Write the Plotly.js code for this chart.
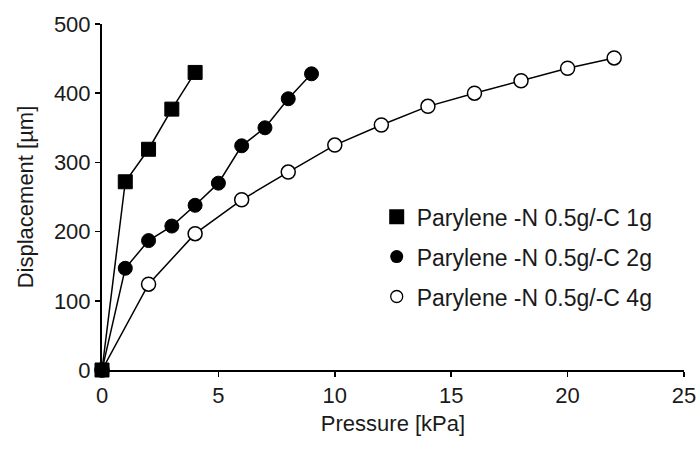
<!DOCTYPE html>
<html>
<head>
<meta charset="utf-8">
<script src="https://cdn.plot.ly/plotly-3.0.1.min.js"></script>
<style>html,body{margin:0;padding:0;background:#fff;}#chart{width:700px;height:450px;}</style>
</head>
<body>
<div id="chart"></div>
<script>
// Data
const seriesNames = ["Parylene -N 0.5g/-C 1g", "Parylene -N 0.5g/-C 2g", "Parylene -N 0.5g/-C 4g"];
const pressure1g = [0, 1, 2, 3, 4];
const displacement1g = [0, 272, 319, 377, 430];
const pressure2g = [0, 1, 2, 3, 4, 5, 6, 7, 8, 9];
const displacement2g = [0, 147, 187, 208, 238, 270, 324, 350, 392, 428];
const pressure4g = [0, 2, 4, 6, 8, 10, 12, 14, 16, 18, 20, 22];
const displacement4g = [0, 124, 197, 246, 286, 325, 354, 381, 400, 418, 436, 451];
const xTicks = [0, 5, 10, 15, 20, 25];
const yTicks = [0, 100, 200, 300, 400, 500];

const FONT = "Liberation Sans, Arial, sans-serif";
const TXT = "#1a1a1a";
const FS = 22;
const lineStyle = {color: "#000", width: 1.5};
const markers = [
  {symbol: "square", size: 14, color: "#000", line: {color: "#000", width: 1}},
  {symbol: "circle", size: 14, color: "#000", line: {color: "#000", width: 1}},
  {symbol: "circle", size: 14, color: "#fff", line: {color: "#000", width: 1.5}}
];
const legendMarkers = [
  {symbol: "square", size: 15, color: "#000", line: {color: "#000", width: 0}},
  {symbol: "circle", size: 13, color: "#000", line: {color: "#000", width: 0}},
  {symbol: "circle", size: 12, color: "#fff", line: {color: "#000", width: 1.3}}
];
const xs = [pressure1g, pressure2g, pressure4g];
const ys = [displacement1g, displacement2g, displacement4g];

const traces = [];
for (let i = 2; i >= 0; i--) {
  traces.push({
    x: xs[i], y: ys[i], type: "scatter", mode: "lines+markers",
    line: lineStyle, marker: markers[i], cliponaxis: false,
    showlegend: false, name: seriesNames[i], legendgroup: "g" + i
  });
}
for (let i = 0; i < 3; i++) {
  traces.push({
    x: [null], y: [null], type: "scatter", mode: "markers",
    marker: legendMarkers[i], name: seriesNames[i], legendgroup: "g" + i, showlegend: true
  });
}

const layout = {
  width: 700, height: 450,
  margin: {l: 102, r: 16, t: 24, b: 80},
  paper_bgcolor: "#fff", plot_bgcolor: "#fff",
  font: {family: FONT, size: FS, color: TXT},
  showlegend: true,
  legend: {
    x: 0.472, y: 0.505, xanchor: "left", yanchor: "top",
    font: {family: FONT, size: 23, color: TXT},
    bgcolor: "rgba(0,0,0,0)", tracegroupgap: 7, traceorder: "grouped",
    itemwidth: 30, itemsizing: "trace"
  },
  xaxis: {
    range: [0, 25], tickvals: xTicks, ticktext: xTicks.map(String),
    showgrid: false, zeroline: false, showline: true, linecolor: "#000", linewidth: 2,
    ticks: "outside", ticklen: 5, tickwidth: 1.5, tickcolor: "#000",
    tickfont: {family: FONT, size: FS, color: TXT},
    title: {text: "Pressure [kPa]", font: {family: FONT, size: FS, color: TXT}, standoff: 8},
    automargin: false
  },
  yaxis: {
    range: [0, 500], tickvals: yTicks, ticktext: yTicks.map(String),
    showgrid: false, zeroline: false, showline: true, linecolor: "#000", linewidth: 2,
    ticks: "outside", ticklen: 5, tickwidth: 1.5, tickcolor: "#000",
    tickfont: {family: FONT, size: FS, color: TXT},
    title: {text: "Displacement [µm]", font: {family: FONT, size: 22, color: TXT}, standoff: 14},
    automargin: false
  }
};

Plotly.newPlot("chart", traces, layout, {displayModeBar: false, staticPlot: true});
</script>
</body>
</html>
